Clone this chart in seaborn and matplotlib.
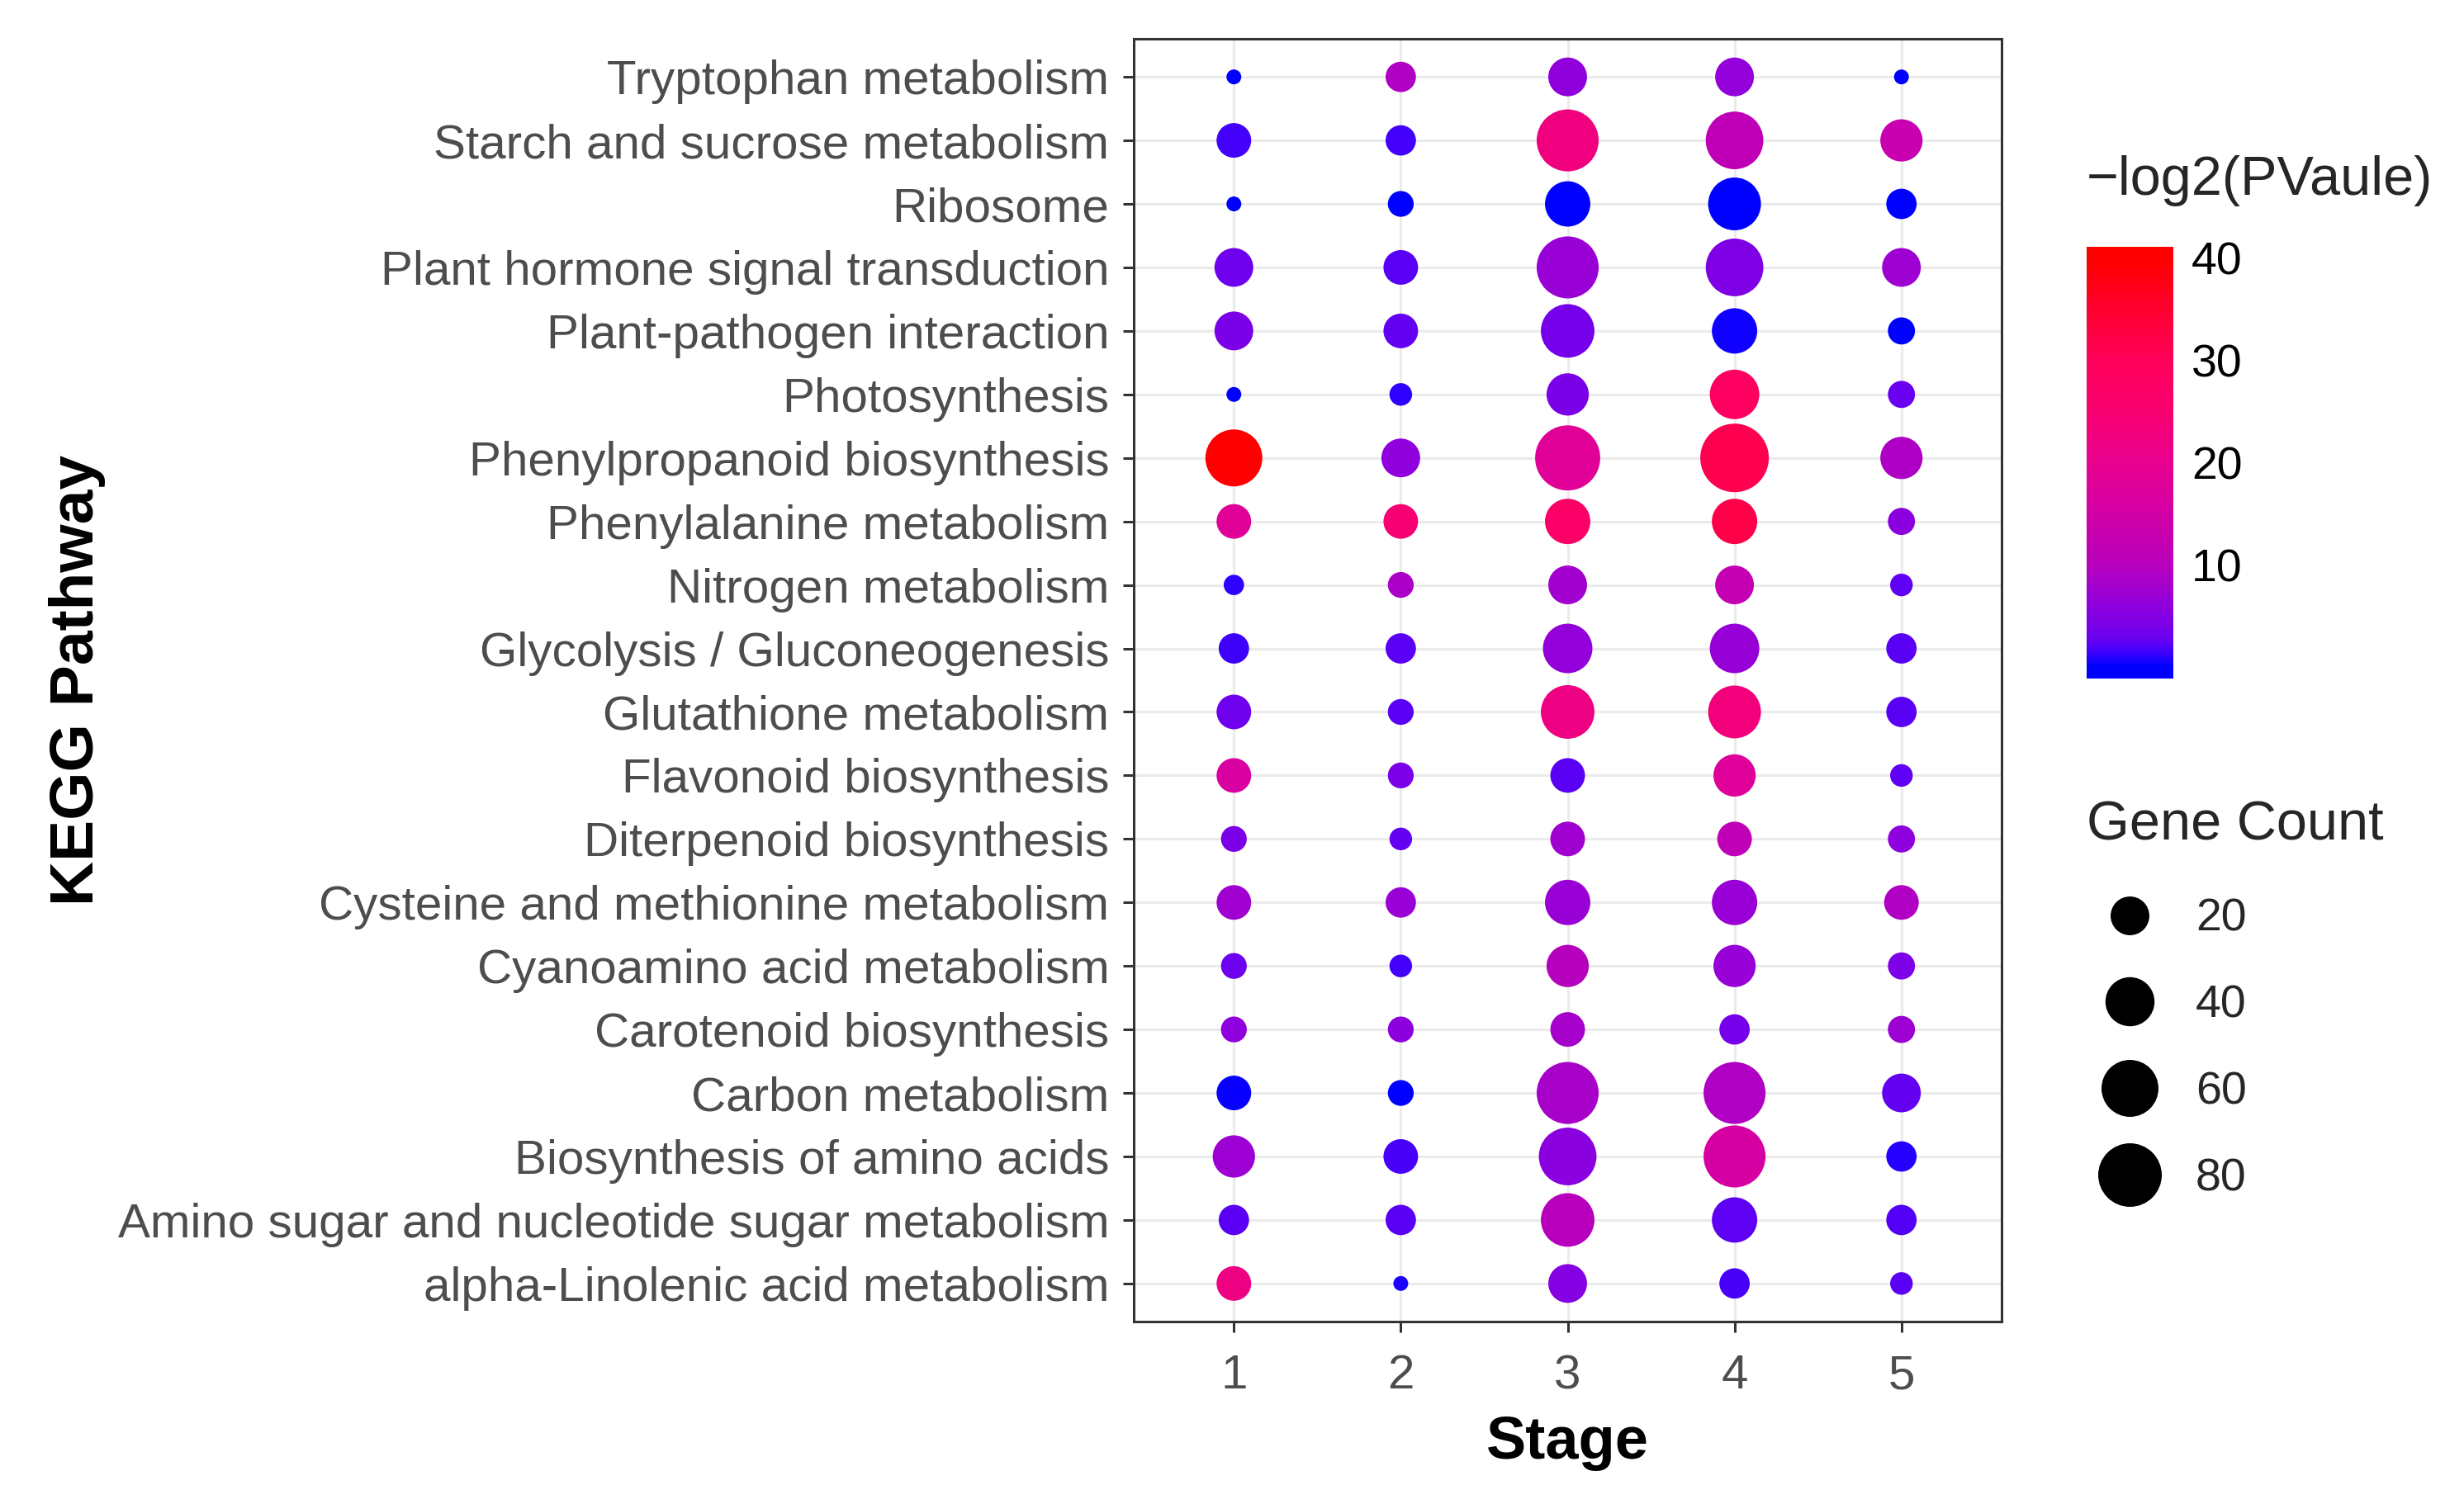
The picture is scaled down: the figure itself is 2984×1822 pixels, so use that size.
import numpy as np
import pandas as pd
import matplotlib
matplotlib.use("Agg")
import matplotlib.pyplot as plt
import seaborn as sns
from matplotlib.colors import LinearSegmentedColormap, ListedColormap, Normalize
from matplotlib.lines import Line2D

# pathways as listed top -> bottom in the figure
pathways = [
    "Tryptophan metabolism",
    "Starch and sucrose metabolism",
    "Ribosome",
    "Plant hormone signal transduction",
    "Plant-pathogen interaction",
    "Photosynthesis",
    "Phenylpropanoid biosynthesis",
    "Phenylalanine metabolism",
    "Nitrogen metabolism",
    "Glycolysis / Gluconeogenesis",
    "Glutathione metabolism",
    "Flavonoid biosynthesis",
    "Diterpenoid biosynthesis",
    "Cysteine and methionine metabolism",
    "Cyanoamino acid metabolism",
    "Carotenoid biosynthesis",
    "Carbon metabolism",
    "Biosynthesis of amino acids",
    "Amino sugar and nucleotide sugar metabolism",
    "alpha-Linolenic acid metabolism",
]
stages = [1, 2, 3, 4, 5]

# gene count per pathway (rows) and stage (columns)
gene_count = [
    [1, 9, 20, 20, 1],
    [14, 9, 75, 62, 26],
    [1, 5, 32, 49, 9],
    [20, 14, 75, 62, 20],
    [20, 14, 51, 32, 6],
    [1, 3, 26, 41, 6],
    [60, 20, 85, 97, 26],
    [14, 14, 32, 32, 6],
    [2, 5, 20, 20, 3],
    [9, 9, 41, 41, 9],
    [14, 5, 51, 49, 9],
    [14, 5, 14, 26, 3],
    [5, 3, 14, 14, 6],
    [14, 9, 32, 32, 14],
    [5, 3, 26, 26, 6],
    [5, 5, 14, 9, 6],
    [14, 5, 75, 75, 20],
    [26, 14, 62, 75, 9],
    [9, 9, 51, 32, 9],
    [14, 1, 20, 9, 3],
]

# -log2(p value) per pathway and stage
neg_log2_p = [
    [0.0, 9.2, 6.0, 6.4, 0.0],
    [1.6, 1.6, 22.5, 11.3, 13.1],
    [0.1, 0.1, 0.0, 0.0, 0.1],
    [3.2, 2.3, 7.0, 4.6, 7.4],
    [4.1, 2.6, 3.9, 0.4, 0.1],
    [0.1, 1.0, 4.1, 28.6, 2.7],
    [40.0, 6.0, 18.2, 31.2, 9.0],
    [18.2, 24.4, 27.3, 32.1, 5.5],
    [1.0, 8.6, 7.8, 12.3, 2.4],
    [1.5, 2.2, 6.4, 6.6, 2.2],
    [3.2, 2.2, 21.9, 23.1, 2.3],
    [16.3, 4.3, 2.3, 17.7, 2.4],
    [4.3, 2.6, 7.6, 11.5, 5.8],
    [7.6, 7.0, 7.0, 7.0, 9.2],
    [3.0, 1.7, 9.8, 6.8, 4.4],
    [5.8, 5.7, 8.2, 3.9, 7.2],
    [0.3, 0.0, 8.4, 9.2, 2.6],
    [7.2, 1.8, 5.5, 15.9, 0.9],
    [2.2, 2.3, 10.1, 2.4, 2.1],
    [21.9, 0.7, 5.1, 1.8, 2.3],
]

colorbar_ticks = [10, 20, 30, 40]
size_breaks = [20, 40, 60, 80]

# long table, bottom row first so it lands at the bottom of the axis
rows = []
for i in reversed(range(len(pathways))):
    for j, st in enumerate(stages):
        rows.append({"Pathway": pathways[i], "Stage": st,
                     "Count": gene_count[i][j], "logp": neg_log2_p[i][j]})
df = pd.DataFrame(rows)

DPI = 200
W, H = 2984, 1822
PX2PT = 72.0 / DPI

# blue -> red gradient as it looks in the original colour bar
lo, hi = df["logp"].min(), df["logp"].max()
anchors = [(0.0, "#0000FF"), (1.0, "#3000FF"), (2.7, "#6A00F0"),
           (6.0, "#9000DC"), (10.0, "#B800BC"), (15.4, "#D400A4"),
           (20.0, "#E8008E"), (25.0, "#F80070"), (30.0, "#FF005A"),
           (35.0, "#FF0030"), (40.0, "#FF0000")]
cmap = LinearSegmentedColormap.from_list(
    "bluered", [((v - lo) / (hi - lo), c) for v, c in anchors])
norm = Normalize(vmin=lo, vmax=hi)

# ggplot-like area palette: diameter grows with sqrt of rescaled count
cmin, cmax = df["Count"].min(), df["Count"].max()
d_lo, d_hi = 18 * PX2PT, 83 * PX2PT


def diam_pt(c):
    return d_lo + (d_hi - d_lo) * np.sqrt((c - cmin) / (cmax - cmin))


size_map = {c: diam_pt(c) ** 2 for c in df["Count"].unique()}

sns.set_theme(style="white")
plt.rcParams["font.family"] = ["Liberation Sans", "DejaVu Sans"]

fig = plt.figure(figsize=(W / DPI, H / DPI), dpi=DPI)
# panel box in pixels: x 1373..2424, y 47..1601
ax = fig.add_axes([1373 / W, 1 - 1601 / H, (2424 - 1373) / W, (1601 - 47) / H])

ax.set_axisbelow(True)
ax.grid(True, color="#EBEBEB", linewidth=1.1)

sns.scatterplot(data=df, x="Stage", y="Pathway", hue="logp", palette=cmap,
                hue_norm=norm, size="Count", sizes=size_map, legend=False,
                edgecolor="none", linewidth=0, ax=ax)

ax.set_xlim(0.4, 5.6)
ax.set_ylim(-0.6, len(pathways) - 0.4)
ax.set_xticks(stages)
ax.set_xticklabels([str(s) for s in stages])

for sp in ax.spines.values():
    sp.set_visible(True)
    sp.set_color("#333333")
    sp.set_linewidth(1.1)

ax.tick_params(axis="both", which="major", length=4.7, width=1.1,
               color="#333333", labelcolor="#4D4D4D", labelsize=21,
               left=True, bottom=True, pad=6)
ax.tick_params(axis="x", pad=9.4)

ax.set_xlabel("Stage", fontsize=26, fontweight="bold", color="black", labelpad=7)
ax.set_ylabel("KEGG Pathway", fontsize=27, fontweight="bold", color="black")
ax.yaxis.set_label_coords(-1.185, 0.5)

# colour bar: ggplot bins put the data range half a bin inside the bar ends
nbin = 20
pad_v = (hi - lo) * 0.5 / (nbin - 1)
bar_vals = np.clip(np.linspace(lo - pad_v, hi + pad_v, 256), lo, hi)
bar_cmap = ListedColormap(cmap(norm(bar_vals)))
cax = fig.add_axes([2527 / W, 1 - 822 / H, 105 / W, 523 / H])
sm = plt.cm.ScalarMappable(norm=Normalize(lo - pad_v, hi + pad_v), cmap=bar_cmap)
cb = fig.colorbar(sm, cax=cax, ticks=colorbar_ticks)
cb.outline.set_visible(False)
cax.yaxis.set_ticks_position("both")
cax.tick_params(axis="y", direction="in", color="white", length=6.5, width=0.9,
                labelsize=20, labelcolor="black", pad=8, labelright=True,
                labelleft=False)
fig.text(2527 / W, 1 - 219 / H, "\u2212log2(PVaule)", fontsize=24,
         ha="left", va="center")

# size legend
fig.text(2527 / W, 1 - 1001 / H, "Gene Count", fontsize=24, ha="left", va="center")
handles = [Line2D([], [], marker="o", linestyle="", color="black",
                  markeredgewidth=0, markersize=diam_pt(v)) for v in size_breaks]
fig.legend(handles, [str(v) for v in size_breaks],
           loc="upper left", bbox_to_anchor=(2523 / W, 1 - 1088 / H),
           frameon=False, fontsize=20, labelspacing=0.95,
           handlelength=2.0, handletextpad=0.45, borderpad=0, borderaxespad=0)

fig.savefig("out.png", dpi=DPI)
